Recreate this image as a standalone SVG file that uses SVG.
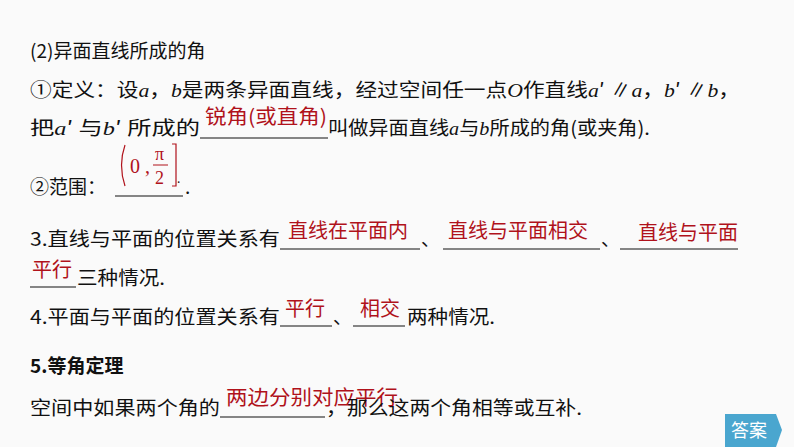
<svg xmlns="http://www.w3.org/2000/svg" width="794" height="447" viewBox="0 0 794 447">
<style>
text{font-family:"Noto Sans CJK SC","Liberation Sans",sans-serif;font-size:19px;fill:#111}
.r{fill:#b0121b;font-size:20px}
.i{font-family:"Liberation Serif",serif;font-style:italic}
.m{font-family:"Liberation Serif",serif}
line{stroke:#111;stroke-width:1.2}
</style>
<rect width="794" height="447" fill="#fafafa"/>
<g id="text">
<text x="30" y="58">(2)异面直线所成的角</text>
<text x="30" y="97" textLength="710" lengthAdjust="spacingAndGlyphs">①定义：设<tspan class="i">a</tspan>，<tspan class="i">b</tspan>是两条异面直线，经过空间任一点<tspan class="i">O</tspan>作直线<tspan class="i">a</tspan>′ ∥<tspan class="i">a</tspan>，<tspan class="i">b</tspan>′ ∥<tspan class="i">b</tspan>，</text>
<text x="30" y="135" textLength="170" lengthAdjust="spacingAndGlyphs">把<tspan class="i">a</tspan>′ 与<tspan class="i">b</tspan>′ 所成的</text>
<line x1="200" y1="138" x2="328" y2="138"/>
<text class="r" x="205" y="124" textLength="122" lengthAdjust="spacingAndGlyphs">锐角(或直角)</text>
<text x="328" y="135" textLength="322" lengthAdjust="spacingAndGlyphs">叫做异面直线<tspan class="i">a</tspan>与<tspan class="i">b</tspan>所成的角(或夹角).</text>
<text x="30" y="194">②范围：</text>
<line x1="115" y1="196" x2="183" y2="196"/>
<g fill="none" stroke="#b0121b" stroke-width="1.2">
<path d="M125 145 Q118 165 125 186"/>
<path d="M172 144 H176 V186 H172"/>
</g>
<text class="r m" x="130" y="173" style="font-size:20px">0 ,</text>
<text class="r m" x="155" y="160" style="font-size:18px">π</text>
<line x1="153" y1="165" x2="168" y2="165" style="stroke:#b0121b;stroke-width:1"/>
<text class="r m" x="155" y="184" style="font-size:18px">2</text>
<text x="177" y="183" style="font-size:12px">.</text>
<text x="185" y="194">.</text>
<text x="30" y="246" textLength="250" lengthAdjust="spacingAndGlyphs">3.直线与平面的位置关系有</text>
<line x1="280" y1="249" x2="420" y2="249"/>
<text class="r" x="288" y="238">直线在平面内</text>
<text x="421" y="246">、</text>
<line x1="443" y1="249" x2="600" y2="249"/>
<text class="r" x="448" y="238">直线与平面相交</text>
<text x="601" y="246">、</text>
<line x1="620" y1="249" x2="738" y2="249"/>
<text class="r" x="638" y="240">直线与平面</text>
<text class="r" x="32" y="277">平行</text>
<line x1="30" y1="287" x2="76" y2="287"/>
<text x="77" y="285" textLength="88" lengthAdjust="spacingAndGlyphs">三种情况.</text>
<text x="30" y="324" textLength="250" lengthAdjust="spacingAndGlyphs">4.平面与平面的位置关系有</text>
<line x1="280" y1="326" x2="332" y2="326"/>
<text class="r" x="285" y="316">平行</text>
<text x="333" y="324">、</text>
<line x1="353" y1="326" x2="405" y2="326"/>
<text class="r" x="360" y="316">相交</text>
<text x="407" y="324" textLength="88" lengthAdjust="spacingAndGlyphs">两种情况.</text>
<text x="30" y="373" style="font-weight:bold">5.等角定理</text>
<text x="30" y="415" textLength="190" lengthAdjust="spacingAndGlyphs">空间中如果两个角的</text>
<line x1="220" y1="417" x2="325" y2="417"/>
<text class="r" x="226" y="405" textLength="172" lengthAdjust="spacingAndGlyphs">两边分别对应平行</text>
<text x="326" y="415" textLength="256" lengthAdjust="spacingAndGlyphs">，那么这两个角相等或互补.</text>
</g>
<g id="answer">
<path d="M725 414 H776 L782 430 L776 447 H725 Z" fill="#4aa6cf"/>
<text x="731" y="437" style="fill:#fff;font-size:18px">答案</text>
</g>
</svg>
